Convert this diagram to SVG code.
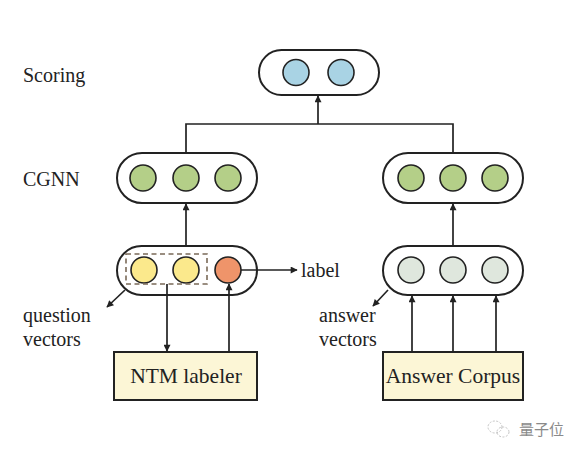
<svg xmlns="http://www.w3.org/2000/svg" width="580" height="450" viewBox="0 0 580 450">
<style>
.pill{fill:#fff;stroke:#222;stroke-width:2}
.c{stroke:#222;stroke-width:1.6}
.blue{fill:#a9d3e4}
.green{fill:#b4cf88}
.yellow{fill:#fbe98c}
.orange{fill:#ef946a}
.grey{fill:#dfe7dd}
.box{fill:#fcf6d6;stroke:#222;stroke-width:2}
.t{font-family:"Liberation Serif","Times New Roman",serif;font-size:20px;fill:#222}
.bt{font-size:21.5px}
.ln{stroke:#222;stroke-width:1.7;fill:none}
</style>
<defs>
<marker id="ah" viewBox="0 0 10 10" refX="9" refY="5" markerWidth="8" markerHeight="7" markerUnits="userSpaceOnUse" orient="auto">
<path d="M0,0 L10,5 L0,10 Z" fill="#222"/>
</marker>
</defs>
<rect width="580" height="450" fill="#fff"/>
<text class="t" x="23" y="82">Scoring</text>
<text class="t" x="23" y="186">CGNN</text>
<g id="scoring">
<rect class="pill" x="259" y="50" width="120" height="45" rx="22.5"/>
<circle class="c blue" cx="296" cy="72.5" r="13"/>
<circle class="c blue" cx="341" cy="72.5" r="13"/>
</g>
<g id="cgnn-left">
<rect class="pill" x="117" y="153" width="140" height="50" rx="25"/>
<circle class="c green" cx="143" cy="178" r="13"/>
<circle class="c green" cx="186" cy="178" r="13"/>
<circle class="c green" cx="228" cy="178" r="13"/>
</g>
<g id="cgnn-right">
<rect class="pill" x="383" y="153" width="140" height="50" rx="25"/>
<circle class="c green" cx="411" cy="178" r="13"/>
<circle class="c green" cx="453" cy="178" r="13"/>
<circle class="c green" cx="495" cy="178" r="13"/>
</g>
<g id="question">
<rect class="pill" x="117" y="246" width="140" height="49" rx="24.5"/>
<circle class="c yellow" cx="144" cy="270" r="13"/>
<circle class="c yellow" cx="186" cy="270" r="13"/>
<circle class="c orange" cx="228" cy="270" r="13"/>
<rect x="126" y="254" width="81" height="30" fill="none" stroke="#7a6a58" stroke-width="1.6" stroke-dasharray="5,3.5"/>
</g>
<g id="answer">
<rect class="pill" x="383" y="246" width="140" height="49" rx="24.5"/>
<circle class="c grey" cx="411" cy="270" r="13"/>
<circle class="c grey" cx="453" cy="270" r="13"/>
<circle class="c grey" cx="495" cy="270" r="13"/>
</g>
<g id="ntm">
<rect class="box" x="114" y="352" width="143" height="48"/>
<text class="t bt" x="186" y="383" text-anchor="middle">NTM labeler</text>
</g>
<g id="corpus">
<rect class="box" x="383" y="352" width="140" height="48"/>
<text class="t bt" x="453" y="383" text-anchor="middle">Answer Corpus</text>
</g>
<g id="labels">
<text class="t" x="301" y="277">label</text>
<text class="t" x="23" y="322">question</text>
<text class="t" x="23" y="346">vectors</text>
<text class="t" x="319" y="322">answer</text>
<text class="t" x="319" y="346">vectors</text>
</g>
<g id="connectors">
<path class="ln" d="M186,153 V124 H453 V153"/>
<path class="ln" d="M318,124 V96" marker-end="url(#ah)"/>
<path class="ln" d="M186,246 V204" marker-end="url(#ah)"/>
<path class="ln" d="M453,246 V204" marker-end="url(#ah)"/>
<path class="ln" d="M241,270 H297" marker-end="url(#ah)"/>
<path class="ln" d="M125,290 L107,307" marker-end="url(#ah)"/>
<path class="ln" d="M388,290 L373,306" marker-end="url(#ah)"/>
<path class="ln" d="M167,284 V351" marker-end="url(#ah)"/>
<path class="ln" d="M229,352 V284" marker-end="url(#ah)"/>
<path class="ln" d="M412,352 V296" marker-end="url(#ah)"/>
<path class="ln" d="M453,352 V296" marker-end="url(#ah)"/>
<path class="ln" d="M496,352 V296" marker-end="url(#ah)"/>
</g>
<g id="watermark" fill="none" stroke="#c4c4c4" stroke-width="1" stroke-dasharray="2,1.5">
<ellipse cx="495" cy="427" rx="7" ry="6"/>
<ellipse cx="503" cy="432" rx="6" ry="5"/>
</g>
<text x="519" y="435" font-family="'Noto Sans CJK SC',sans-serif" font-size="15" fill="#8a8a8a">量子位</text>
</svg>
